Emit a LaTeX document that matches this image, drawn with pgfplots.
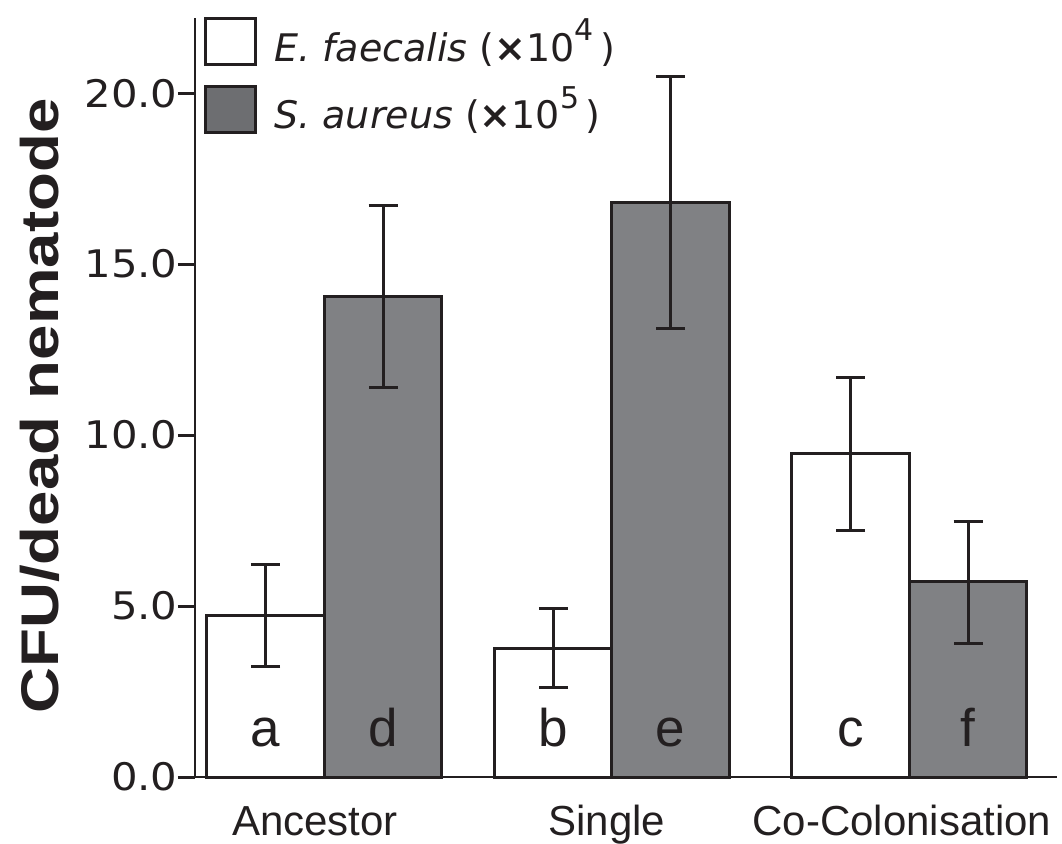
\documentclass[border=0pt]{standalone}
\usepackage{pgfplots}
\pgfplotsset{compat=1.18}
\usepackage{pgfplotstable}
\usepackage{fontspec}
\setmainfont{Liberation Sans}
\newfontfamily\dv{DejaVu Sans}
\newfontfamily\dvw[FakeStretch=1.1]{DejaVu Sans}
\newfontfamily\lbw[FakeStretch=1.2]{Liberation Sans}
\definecolor{ink}{HTML}{231F20}
\definecolor{barg}{HTML}{808184}
\definecolor{legg}{HTML}{6D6E71}

\pgfplotstableread{
x y ep em
265.5 4.71 1.52 1.49
553.5 3.77 1.17 1.14
850.5 9.45 2.24 2.23
}\ef
\pgfplotstableread{
x y ep em
383 14.04 2.69 2.66
670.5 16.80 3.68 3.67
968 5.71 1.76 1.80
}\sa

\newcommand{\expo}[1]{\raisebox{0.55em}{\fontsize{15}{15}\selectfont #1}}

\begin{document}
\begin{tikzpicture}[x=1pt,y=1pt]
\useasboundingbox (0,0) rectangle (531,421.5);
\begin{axis}[
  at={(97.5pt,33pt)}, anchor=south west,
  scale only axis, width=431pt, height=379.5pt,
  xmin=195, xmax=1057, ymin=0, ymax=22.2,
  axis x line=bottom, axis y line=left,
  x axis line style={ink, line width=1pt, -},
  y axis line style={ink, line width=1.2pt, -},
  ytick={0,5,10,15,20},
  yticklabels={0.0,5.0,10.0,15.0,20.0},
  ytick style={ink, line width=1.5pt},
  major tick length=8.5pt, tick align=outside,
  xtick={315,607,902},
  xticklabels={Ancestor,Single,Co-Colonisation},
  xtick style={draw=none},
  yticklabel style={font=\dvw\fontsize{19}{19}\selectfont, text=ink, anchor=east, inner sep=0pt},
  xticklabel style={font=\fontsize{21}{21}\selectfont, text=ink, anchor=base, inner sep=0pt, yshift=-20.5pt},
  legend style={at={(0,1)}, anchor=north west, draw=none, fill=none, inner sep=0pt,
    xshift=4.5pt, yshift=2pt, row sep=7pt, font=\dv\fontsize{19}{19}\selectfont, text=ink},
  legend cell align=left,
  clip=false,
]
\addplot[ybar, bar width=117.5, bar shift=0pt, fill=white, draw=ink, line width=1.5pt,
  legend image code/.code={\draw[draw=ink, line width=1.5pt, fill=white] (0pt,-11.5pt) rectangle (25pt,11.5pt);},
  error bars/.cd, y dir=both, y explicit,
  error bar style={ink, line width=1.5pt},
  error mark options={rotate=90, ink, line width=1.5pt, mark size=7.25pt}]
  table[x=x, y=y, y error plus=ep, y error minus=em]{\ef};
\addlegendentry{\hspace*{6.5pt}{\itshape E. faecalis} ({\bfseries ×}10\expo{4}\,)}
\addplot[ybar, bar width=117.5, bar shift=0pt, fill=barg, draw=ink, line width=1.5pt,
  legend image code/.code={\draw[draw=ink, line width=1.5pt, fill=legg] (0pt,-11.5pt) rectangle (25pt,11.5pt);},
  error bars/.cd, y dir=both, y explicit,
  error bar style={ink, line width=1.5pt},
  error mark options={rotate=90, ink, line width=1.5pt, mark size=7.25pt}]
  table[x=x, y=y, y error plus=ep, y error minus=em]{\sa};
\addlegendentry{\hspace*{6.5pt}{\itshape S. aureus} ({\bfseries ×}10\expo{5}\,)}
\node[font=\fontsize{26.5}{26.5}\selectfont, text=ink, anchor=base] at (axis cs:265.5,0.88) {a};
\node[font=\fontsize{26.5}{26.5}\selectfont, text=ink, anchor=base] at (axis cs:383,0.88) {d};
\node[font=\fontsize{26.5}{26.5}\selectfont, text=ink, anchor=base] at (axis cs:553.5,0.88) {b};
\node[font=\fontsize{26.5}{26.5}\selectfont, text=ink, anchor=base] at (axis cs:670.5,0.88) {e};
\node[font=\fontsize{26.5}{26.5}\selectfont, text=ink, anchor=base] at (axis cs:850.5,0.88) {c};
\node[font=\fontsize{26.5}{26.5}\selectfont, text=ink, anchor=base] at (axis cs:968,0.88) {f};
\end{axis}
\node[rotate=90, anchor=base, font=\lbw\bfseries\fontsize{26.5}{26.5}\selectfont, text=ink] at (29,218.5) {CFU/dead nematode};
\end{tikzpicture}
\end{document}
